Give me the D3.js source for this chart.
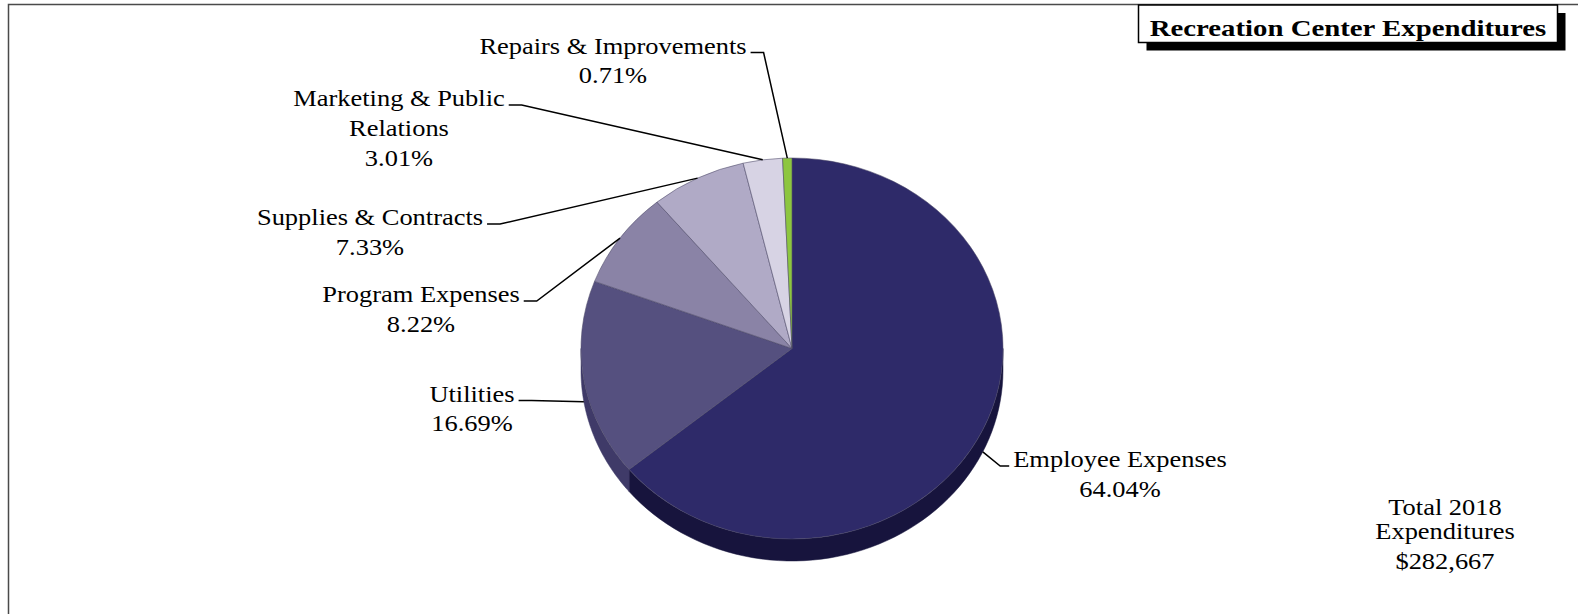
<!DOCTYPE html>
<html>
<head>
<meta charset="utf-8">
<script src="https://cdn.jsdelivr.net/npm/d3@7"></script>
<style>
  html, body { margin: 0; padding: 0; background: #fff; overflow: hidden; }
  text { font-family: "Liberation Serif", "Times New Roman", serif; fill: #000; }
</style>
</head>
<body>
<svg id="chart" width="1578" height="614"></svg>
<script>
// ---- data ----
const categories = [
  "Employee Expenses",
  "Utilities",
  "Program Expenses",
  "Supplies & Contracts",
  "Marketing & Public Relations",
  "Repairs & Improvements"
];
const shares = [64.04, 16.69, 8.22, 7.33, 3.01, 0.71];   // percent of total
const topColors  = ["#2e2a69", "#55507f", "#8a83a6", "#b0aac6", "#d7d3e4", "#8dc63f"];
const sideColors = ["#17143d", "#3f3a68", "#6a6488", "#8c87a3", "#aaa6ba", "#6c9a2e"];
const chartTitle = "Recreation Center Expenditures";
const totalLines = ["Total 2018", "Expenditures"];
const totalAmount = 282667;

// label placement: centre x, first baseline, side the leader leaves from, wrap word
const labelLayout = [
  { x: 1120, y: 467,   side: "left"  },
  { x: 472,  y: 401.5, side: "right" },
  { x: 421,  y: 302,   side: "right" },
  { x: 370,  y: 225,   side: "right" },
  { x: 399,  y: 106,   side: "right", breakAfter: "Public" },
  { x: 613,  y: 53.5,  side: "right" }
];

// ---- setup ----
const W = 1578, H = 614;
const svg = d3.select("#chart");
const stretch = 1.15;       // horizontal stretch applied to label text
const fontSize = 23;
const lineH = 30;

// frame
svg.append("path")
  .attr("d", `M8.5,${H} V4.5 H${W}`)
  .attr("fill", "none").attr("stroke", "#4a4a4a").attr("stroke-width", 1.5);

// ---- pie geometry ----
const cx = 792, cy = 348.5, rx = 211, ry = 190.5, depth = 22;
const data = categories.map((c, i) => ({ name: c, share: shares[i], top: topColors[i], side: sideColors[i] }));
const pie = d3.pie().sort(null).value(d => d.share);
const arcs = pie(data);
const pt = (a, dz = 0) => [cx + rx * Math.sin(a), cy - ry * Math.cos(a) + dz];

// side walls (front half only)
const sideG = svg.append("g");
arcs.forEach(a => {
  const a1 = Math.max(a.startAngle, Math.PI / 2);
  const a2 = Math.min(a.endAngle, 3 * Math.PI / 2);
  if (a1 >= a2) return;
  const n = 60;
  const angs = d3.range(n + 1).map(i => a1 + (a2 - a1) * i / n);
  const topPts = angs.map(t => pt(t));
  const botPts = angs.slice().reverse().map(t => pt(t, depth));
  sideG.append("path")
    .attr("d", d3.line()(topPts.concat(botPts)) + "Z")
    .attr("fill", a.data.side)
    .attr("stroke", a.data.side).attr("stroke-width", 0.5);
});

// top face: circular arcs squashed into an ellipse
const arcGen = d3.arc().innerRadius(0).outerRadius(ry);
const topG = svg.append("g").attr("transform", `translate(${cx},${cy}) scale(${rx / ry},1)`);
topG.selectAll("path.slice")
  .data(arcs)
  .join("path")
  .attr("class", "slice")
  .attr("d", arcGen)
  .attr("fill", d => d.data.top)
  .attr("stroke", "#4b4866")
  .attr("stroke-opacity", 0.8)
  .attr("stroke-width", 0.7)
  .attr("vector-effect", "non-scaling-stroke");

// ---- labels and leaders ----
const fmtPct = d3.format(".2f");
const labelG = svg.append("g");
arcs.forEach((a, i) => {
  const L = labelLayout[i];
  let lines = [a.data.name];
  if (L.breakAfter) {
    const k = a.data.name.indexOf(L.breakAfter) + L.breakAfter.length;
    lines = [a.data.name.slice(0, k), a.data.name.slice(k).trim()];
  }
  lines.push(fmtPct(a.data.share) + "%");

  const g = labelG.append("g").attr("transform", `translate(${L.x},${L.y})`);
  const t = g.append("text")
    .attr("transform", `scale(${stretch},1)`)
    .attr("text-anchor", "middle")
    .attr("font-size", fontSize);
  const spans = lines.map((s, j) => t.append("tspan").attr("x", 0).attr("y", j * lineH).text(s));
  const w0 = spans[0].node().getComputedTextLength() * stretch;

  // leader: short horizontal tick next to the first line, then straight to the slice
  const mid = (a.startAngle + a.endAngle) / 2;
  const front = Math.cos(mid) < 0;
  const end = pt(mid, front ? depth : 0);
  const ly = L.y - 1;
  let x0, x1;
  if (L.side === "right") { x0 = L.x + w0 / 2 + 4; x1 = x0 + 13; }
  else { x0 = L.x - w0 / 2 - 4; x1 = x0 - 9; }
  labelG.append("path")
    .attr("d", d3.line()([[x0, ly], [x1, ly], end]))
    .attr("fill", "none").attr("stroke", "#000").attr("stroke-width", 1.5);
});

// ---- title box ----
const tb = { x: 1138.5, y: 5, w: 419, h: 37.5 };
svg.append("rect")
  .attr("x", tb.x + 8).attr("y", tb.y + 8).attr("width", tb.w).attr("height", tb.h)
  .attr("fill", "#000");
svg.append("rect")
  .attr("x", tb.x).attr("y", tb.y).attr("width", tb.w).attr("height", tb.h)
  .attr("fill", "#fff").attr("stroke", "#000").attr("stroke-width", 1.5);
svg.append("g").attr("transform", `translate(${tb.x + tb.w / 2},36)`)
  .append("text")
  .attr("transform", "scale(1.2,1)")
  .attr("text-anchor", "middle")
  .attr("font-size", 24).attr("font-weight", "bold")
  .text(chartTitle);

// ---- total ----
const totG = svg.append("g").attr("transform", "translate(1445,515)");
const totT = totG.append("text")
  .attr("transform", `scale(${stretch},1)`)
  .attr("text-anchor", "middle").attr("font-size", fontSize);
totalLines.forEach((s, j) => totT.append("tspan").attr("x", 0).attr("y", j * 24).text(s));
totT.append("tspan").attr("x", 0).attr("y", 54).text(d3.format("$,")(totalAmount));
</script>
</body>
</html>
